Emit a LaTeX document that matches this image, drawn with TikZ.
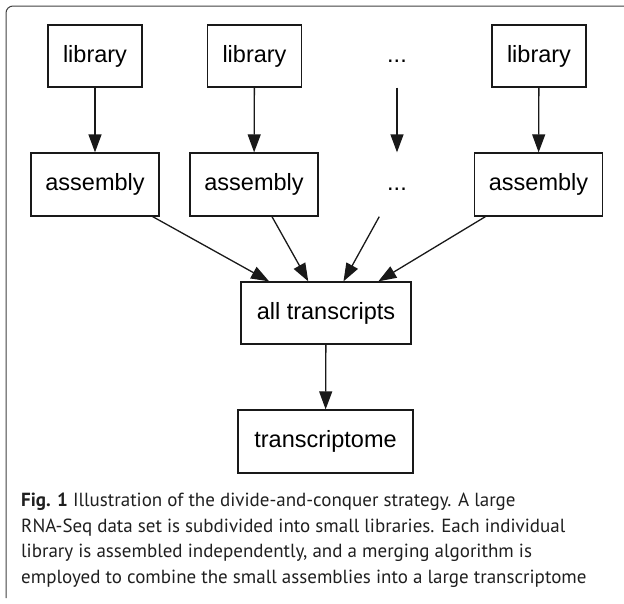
\documentclass[tikz,border=0pt]{standalone}
\usepackage{fontspec}
\setmainfont{Liberation Sans}
\newfontfamily\capfont{PT Sans}
\usetikzlibrary{arrows.meta}

\tikzset{
  stage/.style={draw=black!90, line width=1.3pt, inner sep=0pt,
    font=\fontsize{23.5}{26}\selectfont},
  libbox/.style={stage, minimum width=94pt, minimum height=62pt},
  asmbox/.style={stage, minimum width=128pt, minimum height=63pt},
  ghost/.style={stage, draw=none},
  flow/.style={line width=1.3pt, draw=black!90,
    -{Triangle[length=18pt, width=13pt]}},
  capline/.style={anchor=base west, inner sep=0pt, text=black!88,
    font=\capfont\fontsize{19}{22}\selectfont},
}
% ellipsis that keeps the line height of ordinary words
\newcommand{\moredots}{\vphantom{ly}...}

\begin{document}
\begin{tikzpicture}[x=1pt, y=-1pt]
  \useasboundingbox (0,0) rectangle (624,603);

  % panel frame: top and left edges with a rounded corner
  \draw[black!75, line width=1pt, rounded corners=7pt]
    (6,598) -- (6,6) -- (624,6);

  % libraries
  \node[libbox] (lib1) at (95,56) {library};
  \node[libbox] (lib2) at (254.5,56) {library};
  \node[ghost, minimum width=94pt, minimum height=62pt] (libdots) at (397,56) {\moredots};
  \node[libbox] (lib4) at (539,56) {library};

  % per-library assemblies
  \node[asmbox] (asm1) at (95,184.5) {assembly};
  \node[asmbox] (asm2) at (254,184.5) {assembly};
  \node[ghost, minimum width=128pt, minimum height=63pt] (asmdots) at (397,184.5) {\moredots};
  \node[asmbox] (asm4) at (538.5,184.5) {assembly};

  % merged result
  \node[stage, minimum width=170pt, minimum height=62pt] (all) at (326,313) {all transcripts};
  \node[stage, minimum width=175pt, minimum height=63pt] (tome) at (325.5,441.5) {transcriptome};

  % connectors
  \draw[flow] (lib1) -- (asm1);
  \draw[flow] (lib2) -- (asm2);
  \draw[flow] (libdots) -- (asmdots);
  \draw[flow] (lib4) -- (asm4);
  \draw[flow] (asm1) -- (all);
  \draw[flow] (asm2) -- (all);
  \draw[flow] (asmdots) -- (all);
  \draw[flow] (asm4) -- (all);
  \draw[flow] (all) -- (tome);

  % caption
  \node[capline] (cap1) at (21,506) {\textbf{Fig. 1} Illustration of the divide-and-conquer strategy. A large};
  \node[capline] (cap2) at (21,532) {RNA-Seq data set is subdivided into small libraries. Each individual};
  \node[capline] (cap3) at (21,557.5) {library is assembled independently, and a merging algorithm is};
  \node[capline] (cap4) at (21,583) {employed to combine the small assemblies into a large transcriptome};
\end{tikzpicture}
\end{document}
